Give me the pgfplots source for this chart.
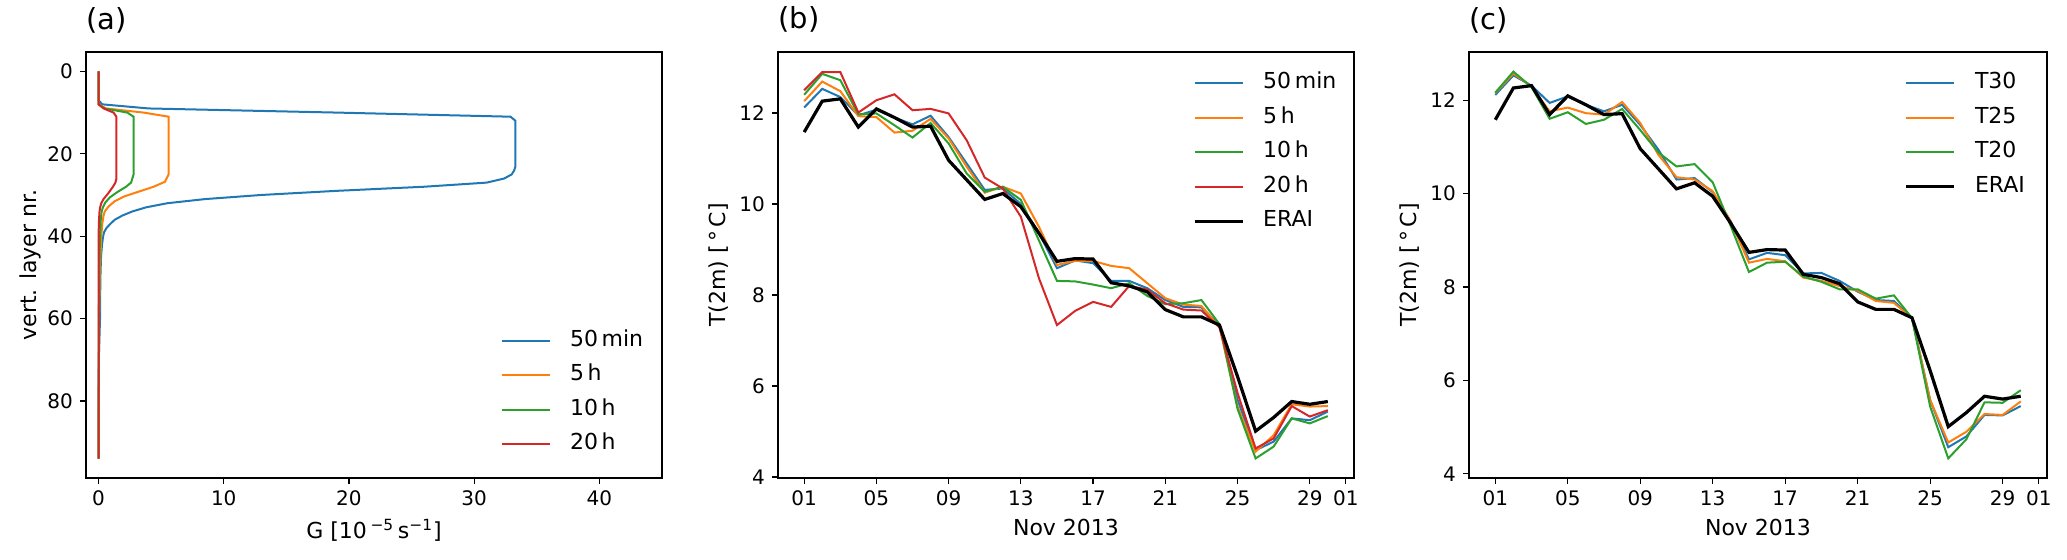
\documentclass[border=0pt]{standalone}
\usepackage{fontspec}
\setmainfont{DejaVu Sans}
\usepackage{pgfplots}
\pgfplotsset{compat=1.18}

\definecolor{c0}{HTML}{1F77B4}
\definecolor{c1}{HTML}{FF7F0E}
\definecolor{c2}{HTML}{2CA02C}
\definecolor{c3}{HTML}{D62728}

\pgfplotsset{
  panel/.style={
    scale only axis, width=288pt, height=213pt,
    anchor=south west,
    axis line style={line width=0.6pt},
    tick align=outside, tick pos=left, major tick length=3pt,
    every tick/.style={black, line width=0.6pt},
    ticklabel style={font=\fontsize{10}{12}\selectfont},
    /pgf/number format/assume math mode=true,
    label style={font=\fontsize{11}{13}\selectfont},
    title style={font=\fontsize{14.5}{17}\selectfont, at={(axis description cs:0,1)},
      anchor=base west, inner sep=0pt, yshift=5.5pt},
    legend style={draw=none, fill=none, inner sep=0pt, outer sep=0pt,
      font=\fontsize{11}{13}\selectfont, row sep=6.75pt,
      nodes={inner sep=0pt, text height=8pt, text depth=2.5pt}},
    legend cell align=left,
    legend image code/.code={\draw[##1] (0pt,0pt) -- (24pt,0pt);},
    /tikz/every odd column/.append style={column sep=9.5pt},
    every axis plot/.append style={line width=1pt},
  },
  erai/.style={black, line width=1.6pt},
}

\begin{document}
\begin{tikzpicture}
\path (0,0) rectangle (1033.5pt,279.5pt);

% (a) profiles of G
\begin{axis}[panel, at={(43pt,40.5pt)},
  xmin=-1, xmax=45, ymin=-4.7, ymax=98.7, y dir=reverse,
  xtick={0,10,20,30,40}, ytick={0,20,40,60,80},
  title={(a)},
  xlabel={G [10\,\textsuperscript{−5}\,s\textsuperscript{−1}]},
  ylabel={vert. layer nr.},
  xlabel style={at={(axis description cs:0.5,-0.141)}, anchor=base},
  ylabel style={at={(axis description cs:-0.097,0.5)}, anchor=center},
  legend style={at={(axis description cs:0.7205,0.347)}, anchor=north west},
]
\addplot[c0] coordinates {(0,0) (0,7) (0.3,8) (4,9) (19,10) (32.9,11) (33.3,12) (33.3,23)
  (33.2,24) (33.0,25) (32.4,26) (31.0,27) (26,28) (19,29) (13,30) (8.5,31) (5.5,32)
  (3.8,33) (2.7,34) (1.9,35) (1.3,36) (0.95,37) (0.64,38) (0.45,39) (0.37,40) (0.28,42)
  (0.2,45) (0.15,50) (0.13,55) (0.12,60) (0.08,64) (0.02,70) (0,94)};
\addlegendentry{50\,min}
\addplot[c1] coordinates {(0,0) (0,8) (0.6,9) (3.6,10) (5.6,11) (5.6,25) (5.3,26.8)
  (4.4,28) (3.4,29) (2.1,30.3) (1.3,31.5) (0.8,32.8) (0.5,34) (0.4,35) (0.3,37)
  (0.22,40) (0.15,45) (0.1,50) (0.05,60) (0,94)};
\addlegendentry{5\,h}
\addplot[c2] coordinates {(0,0) (0,8) (0.5,9) (2.3,10) (2.8,11) (2.8,25) (2.6,27)
  (2.2,28) (1.5,29.3) (0.9,30.6) (0.55,31.8) (0.35,33) (0.25,34) (0.18,36) (0.12,40)
  (0.08,45) (0.04,55) (0,94)};
\addlegendentry{10\,h}
\addplot[c3] coordinates {(0,0) (0,8) (0.4,9) (1.2,10) (1.43,11) (1.43,26) (1.35,27)
  (1.15,28) (0.8,29.5) (0.4,31) (0.22,32) (0.13,33) (0.08,34) (0.04,36) (0,40) (0,94)};
\addlegendentry{20\,h}
\end{axis}

% (b) T2m for different G
\begin{axis}[panel, at={(389pt,40.5pt)},
  xmin=-0.45, xmax=31.45, ymin=3.98, ymax=13.34,
  xtick={1,5,9,13,17,21,25,29,31},
  xticklabels={01,05,09,13,17,21,25,29,01},
  ytick={4,6,8,10,12},
  title={(b)},
  xlabel={Nov 2013}, ylabel={T(2m) [\,°\,C]},
  xlabel style={at={(axis description cs:0.5,-0.134)}, anchor=base},
  ylabel style={at={(axis description cs:-0.104,0.5)}, anchor=center},
  legend style={at={(axis description cs:0.7205,0.951)}, anchor=north west},
]
\addplot[c0] coordinates {(1,12.12) (2,12.53) (3,12.35) (4,11.95) (5,12.07) (6,11.90)
  (7,11.75) (8,11.94) (9,11.47) (10,10.89) (11,10.31) (12,10.34) (13,10.00) (14,9.36)
  (15,8.59) (16,8.76) (17,8.70) (18,8.31) (19,8.31) (20,8.15) (21,7.89) (22,7.74)
  (23,7.73) (24,7.34) (25,5.70) (26,4.59) (27,4.78) (28,5.29) (29,5.25) (30,5.44)};
\addlegendentry{50\,min}
\addplot[c1] coordinates {(1,12.26) (2,12.69) (3,12.48) (4,11.93) (5,11.91) (6,11.57)
  (7,11.61) (8,11.87) (9,11.44) (10,10.82) (11,10.25) (12,10.38) (13,10.23) (14,9.50)
  (15,8.66) (16,8.75) (17,8.75) (18,8.64) (19,8.59) (20,8.26) (21,7.93) (22,7.79)
  (23,7.76) (24,7.30) (25,5.55) (26,4.56) (27,4.92) (28,5.60) (29,5.55) (30,5.56)};
\addlegendentry{5\,h}
\addplot[c2] coordinates {(1,12.40) (2,12.86) (3,12.72) (4,11.97) (5,11.99) (6,11.73)
  (7,11.46) (8,11.78) (9,11.33) (10,10.67) (11,10.27) (12,10.38) (13,10.09) (14,9.20)
  (15,8.31) (16,8.30) (17,8.23) (18,8.15) (19,8.26) (20,7.98) (21,7.80) (22,7.82)
  (23,7.89) (24,7.36) (25,5.50) (26,4.41) (27,4.67) (28,5.29) (29,5.18) (30,5.34)};
\addlegendentry{10\,h}
\addplot[c3] coordinates {(1,12.50) (2,12.90) (3,12.90) (4,12.01) (5,12.28) (6,12.41)
  (7,12.06) (8,12.09) (9,11.99) (10,11.40) (11,10.58) (12,10.34) (13,9.72) (14,8.37)
  (15,7.34) (16,7.65) (17,7.85) (18,7.74) (19,8.20) (20,8.12) (21,7.82) (22,7.68)
  (23,7.66) (24,7.29) (25,5.85) (26,4.63) (27,4.85) (28,5.56) (29,5.33) (30,5.47)};
\addlegendentry{20\,h}
\addplot[erai] coordinates {(1,11.58) (2,12.26) (3,12.31) (4,11.69) (5,12.09) (6,11.90)
  (7,11.69) (8,11.71) (9,10.96) (10,10.53) (11,10.10) (12,10.23) (13,9.94) (14,9.36)
  (15,8.74) (16,8.80) (17,8.79) (18,8.27) (19,8.20) (20,8.07) (21,7.68) (22,7.52)
  (23,7.52) (24,7.34) (25,6.21) (26,5.01) (27,5.31) (28,5.66) (29,5.60) (30,5.66)};
\addlegendentry{ERAI}
\end{axis}

% (c) T2m for different truncations
\begin{axis}[panel, at={(734.5pt,40.5pt)}, width=289pt,
  xmin=-0.45, xmax=31.45, ymin=3.91, ymax=13.03,
  xtick={1,5,9,13,17,21,25,29,31},
  xticklabels={01,05,09,13,17,21,25,29,01},
  ytick={4,6,8,10,12},
  title={(c)},
  xlabel={Nov 2013}, ylabel={T(2m) [\,°\,C]},
  xlabel style={at={(axis description cs:0.5,-0.134)}, anchor=base},
  ylabel style={at={(axis description cs:-0.102,0.5)}, anchor=center},
  legend style={at={(axis description cs:0.754,0.951)}, anchor=north west},
]
\addplot[c0] coordinates {(1,12.11) (2,12.53) (3,12.31) (4,11.94) (5,12.08) (6,11.90)
  (7,11.76) (8,11.90) (9,11.47) (10,10.94) (11,10.30) (12,10.33) (13,10.03) (14,9.40)
  (15,8.59) (16,8.73) (17,8.68) (18,8.29) (19,8.30) (20,8.13) (21,7.90) (22,7.72)
  (23,7.70) (24,7.33) (25,5.58) (26,4.57) (27,4.80) (28,5.26) (29,5.25) (30,5.45)};
\addlegendentry{T30}
\addplot[c1] coordinates {(1,12.15) (2,12.57) (3,12.29) (4,11.76) (5,11.84) (6,11.72)
  (7,11.69) (8,11.96) (9,11.51) (10,10.83) (11,10.35) (12,10.30) (13,10.05) (14,9.40)
  (15,8.52) (16,8.60) (17,8.55) (18,8.20) (19,8.13) (20,8.02) (21,7.92) (22,7.70)
  (23,7.66) (24,7.33) (25,5.58) (26,4.67) (27,4.90) (28,5.28) (29,5.26) (30,5.55)};
\addlegendentry{T25}
\addplot[c2] coordinates {(1,12.16) (2,12.61) (3,12.28) (4,11.60) (5,11.74) (6,11.49)
  (7,11.58) (8,11.81) (9,11.36) (10,10.88) (11,10.58) (12,10.63) (13,10.24) (14,9.30)
  (15,8.32) (16,8.52) (17,8.54) (18,8.22) (19,8.11) (20,7.95) (21,7.95) (22,7.75)
  (23,7.82) (24,7.33) (25,5.44) (26,4.33) (27,4.74) (28,5.53) (29,5.52) (30,5.79)};
\addlegendentry{T20}
\addplot[erai] coordinates {(1,11.58) (2,12.26) (3,12.31) (4,11.69) (5,12.09) (6,11.90)
  (7,11.69) (8,11.71) (9,10.96) (10,10.53) (11,10.10) (12,10.23) (13,9.94) (14,9.36)
  (15,8.74) (16,8.80) (17,8.79) (18,8.27) (19,8.20) (20,8.07) (21,7.68) (22,7.52)
  (23,7.52) (24,7.34) (25,6.21) (26,5.01) (27,5.31) (28,5.66) (29,5.60) (30,5.66)};
\addlegendentry{ERAI}
\end{axis}
\end{tikzpicture}
\end{document}
